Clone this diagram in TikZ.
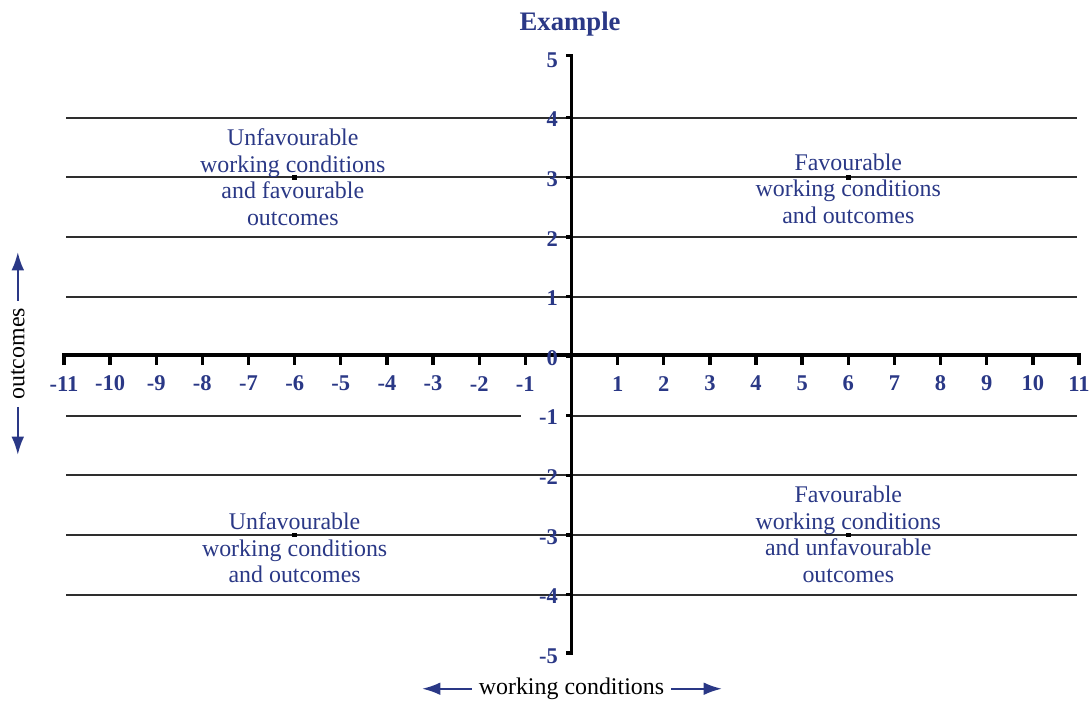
\documentclass[tikz,border=0pt]{standalone}
\usepackage{fontspec}
\setmainfont{Liberation Serif}
\usepackage{xcolor}
\usetikzlibrary{arrows.meta,positioning}
\definecolor{quadblue}{RGB}{42,56,134}

\begin{document}
\begin{tikzpicture}[x=1.1535cm,y=1.49cm,
    gridline/.style={line width=1.4pt, black!82},
    axisline/.style={line width=2.4pt, black},
    ticklabel/.style={font=\fontsize{16}{16}\selectfont\bfseries, text=quadblue, inner sep=0pt},
    quadtext/.style={font=\fontsize{17}{18.9}\selectfont, text=quadblue, align=center, inner sep=0pt},
    axisname/.style={font=\fontsize{17}{17}\selectfont, black, inner sep=5pt},
    namearrow/.style={line width=1.6pt, quadblue, -{Latex[length=13pt,width=9pt]}},
    dot/.style={rectangle, fill=black, minimum size=3.2pt, inner sep=0pt}]
  \useasboundingbox (-12.386,-5.789) rectangle (11.238,5.956);
  % horizontal lines
  \foreach \y in {1,2,3,4,-2,-3,-4}
    \draw[gridline] (-10.95,\y-0.02) -- (10.95,\y-0.02);
  \draw[gridline] (-10.95,-1.02) -- (-1.10,-1.02);
  \draw[gridline] (0,-1.02) -- (10.95,-1.02);
  % axes
  \draw[axisline] (-11,-0.17) -- (-11,0) -- (11,0) -- (11,-0.17);
  \draw[axisline] (-0.11,5.02) -- (0,5.02) -- (0,-5) -- (-0.11,-5);
  \foreach \x in {-10,...,-1,1,2,...,10}
    \draw[axisline] (\x,0) -- (\x,-0.17);
  \foreach \y in {-4,...,4}
    \draw[axisline] (0,\y-0.02) -- (-0.11,\y-0.02);
  % tick labels
  \foreach \x in {-11,...,-1,1,2,...,11}
    \node[ticklabel] (xl\x) at (\x,-0.48) {\x};
  \foreach \y in {-5,...,5}
    \node[ticklabel, anchor=east] (yl\y) at (-0.29,\y-0.05) {\y};
  % title
  \node[font=\fontsize{19}{19}\selectfont\bfseries, text=quadblue] (title) at (-0.03,5.55) {Example};
  % quadrant points
  \node[dot] (pa) at (6,2.98) {};
  \node[dot] (pb) at (-6,2.98) {};
  \node[dot] (pc) at (-6,-3.02) {};
  \node[dot] (pd) at (6,-3.02) {};
  % quadrant labels
  \node[quadtext] (qa) at (6,2.79) {Favourable\\working conditions\\and outcomes};
  \node[quadtext] (qb) at (-6.04,2.98) {Unfavourable\\working conditions\\and favourable\\outcomes};
  \node[quadtext] (qc) at (-6,-3.24) {Unfavourable\\working conditions\\and outcomes};
  \node[quadtext] (qd) at (6,-3.01) {Favourable\\working conditions\\and unfavourable\\outcomes};
  % axis names
  \node[axisname] (wc) at (0,-5.6) {working conditions};
  \coordinate (wcl) at (-3.24,-5.6);
  \coordinate (wcr) at (3.262,-5.6);
  \draw[namearrow] (wc.west) -- (wcl);
  \draw[namearrow] (wc.east) -- (wcr);
  \node[axisname, rotate=90] (oc) at (-12.0,0.02) {outcomes};
  \coordinate (ocu) at (-12.0,1.728);
  \coordinate (ocd) at (-12.0,-1.678);
  \draw[namearrow] (oc.east) -- (ocu);
  \draw[namearrow] (oc.west) -- (ocd);
\end{tikzpicture}
\end{document}
